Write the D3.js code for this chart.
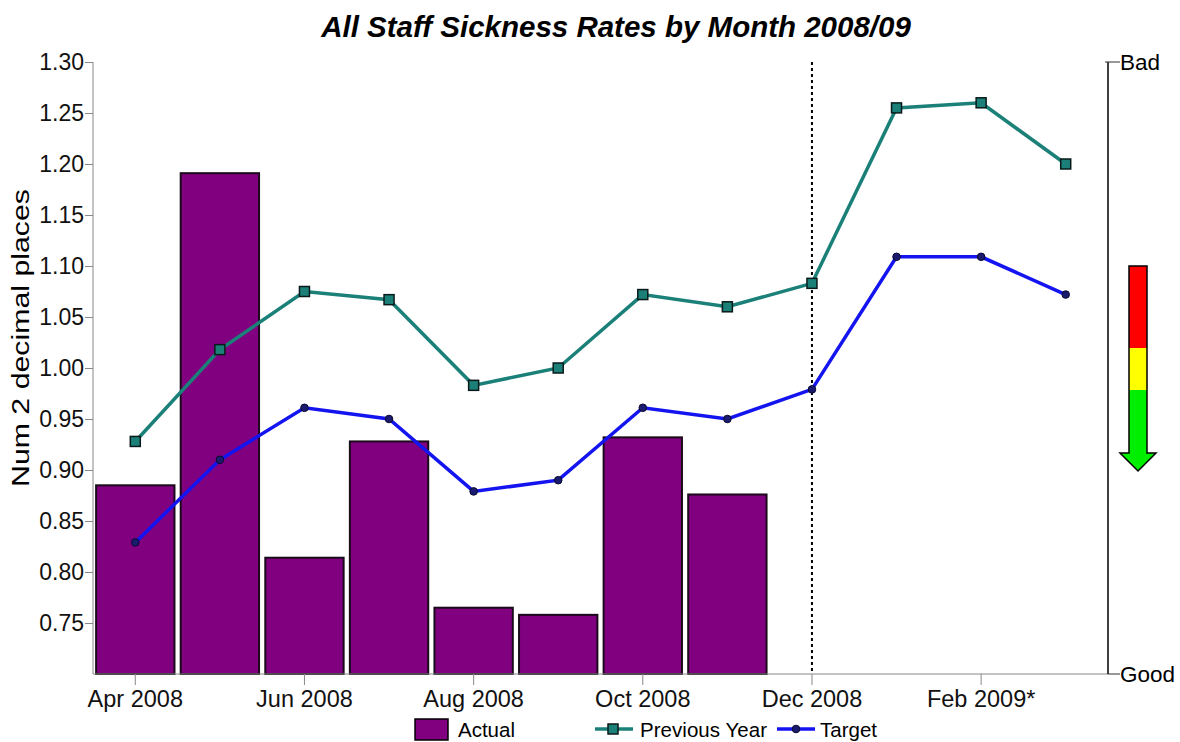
<!DOCTYPE html>
<html>
<head>
<meta charset="utf-8">
<script src="https://cdn.jsdelivr.net/npm/d3@7"></script>
<style>
  html, body { margin: 0; padding: 0; background: #fff; }
  svg { display: block; font-family: "Liberation Sans", Arial, sans-serif; }
</style>
</head>
<body>
<svg id="chart" width="1180" height="742"></svg>
<script>
// Monthly sickness rates, April 2008 to March 2009
const months = ["Apr 2008", "May 2008", "Jun 2008", "Jul 2008", "Aug 2008", "Sep 2008",
                "Oct 2008", "Nov 2008", "Dec 2008", "Jan 2009", "Feb 2009*", "Mar 2009"];
const actual = [0.885, 1.191, 0.814, 0.928, 0.765, 0.758, 0.932, 0.876, null, null, null, null];
const previousYear = [0.928, 1.018, 1.075, 1.067, 0.983, 1.000, 1.072, 1.060, 1.083, 1.255, 1.260, 1.200];
const target = [0.829, 0.910, 0.961, 0.950, 0.879, 0.890, 0.961, 0.950, 0.979, 1.109, 1.109, 1.072];
const yTicks = [0.75, 0.80, 0.85, 0.90, 0.95, 1.00, 1.05, 1.10, 1.15, 1.20, 1.25, 1.30];
const xTickLabels = ["Apr 2008", "Jun 2008", "Aug 2008", "Oct 2008", "Dec 2008", "Feb 2009*"];
const currentMonth = "Dec 2008";

const svg = d3.select("#chart");
const plotLeft = 93, plotRight = 1108, plotTop = 62, plotBottom = 674;
const FONT = "Liberation Sans, Arial, sans-serif";

const x = d3.scaleBand().domain(months).range([plotLeft, plotRight]).paddingInner(0.05).paddingOuter(0.025);
const xc = d => x(d) + x.bandwidth() / 2;
const y = d3.scaleLinear().domain([0.70, 1.30]).range([plotBottom, plotTop]);

// Title
svg.append("text")
  .attr("x", 616).attr("y", 37)
  .attr("text-anchor", "middle")
  .attr("font-size", 29.5).attr("font-weight", "bold").attr("font-style", "italic")
  .text("All Staff Sickness Rates by Month 2008/09");

// Bars
svg.append("g").selectAll("rect")
  .data(months.map((m, i) => ({ m, v: actual[i] })).filter(d => d.v != null))
  .join("rect")
  .attr("x", d => x(d.m) + 1)
  .attr("width", x.bandwidth() - 2)
  .attr("y", d => y(d.v))
  .attr("height", d => y(0.70) - y(d.v))
  .attr("fill", "#800080")
  .attr("stroke", "#1a0a1a")
  .attr("stroke-width", 2);

// Y axis
const yAxis = svg.append("g")
  .attr("transform", `translate(${plotLeft},0)`)
  .call(d3.axisLeft(y).tickValues(yTicks).tickFormat(d3.format(".2f")).tickSize(8).tickSizeOuter(0));
yAxis.select(".domain").attr("stroke", "#888").attr("d", `M0,${plotTop}V${plotBottom}`);
yAxis.selectAll(".tick line").attr("stroke", "#888");
yAxis.selectAll(".tick text").attr("font-size", 23).attr("fill", "#111").attr("x", -9)
  .attr("font-family", FONT);

// X axis
const xAxis = svg.append("g")
  .attr("transform", `translate(0,${plotBottom})`)
  .call(d3.axisBottom(x).tickValues(xTickLabels).tickSize(11).tickSizeOuter(0));
xAxis.select(".domain").attr("stroke", "#888").attr("d", `M${plotLeft},0H${plotRight}`);
xAxis.selectAll(".tick line").attr("stroke", "#888");
xAxis.selectAll(".tick text").attr("font-size", 23.5).attr("fill", "#111")
  .attr("y", 33).attr("dy", 0)
  .attr("font-family", FONT);

// Y axis title
svg.append("text")
  .attr("transform", `translate(29,338) rotate(-90)`)
  .attr("text-anchor", "middle")
  .attr("font-size", 23)
  .attr("textLength", 298).attr("lengthAdjust", "spacingAndGlyphs")
  .text("Num 2 decimal places");

// Current month marker
svg.append("line")
  .attr("x1", xc(currentMonth)).attr("x2", xc(currentMonth))
  .attr("y1", plotTop).attr("y2", plotBottom)
  .attr("stroke", "#000").attr("stroke-width", 2).attr("stroke-dasharray", "3,3");

// Lines
const line = d3.line().x((d, i) => xc(months[i])).y(d => y(d));
svg.append("path").datum(previousYear).attr("d", line)
  .attr("fill", "none").attr("stroke", "#1b8078").attr("stroke-width", 3.5);
svg.append("path").datum(target).attr("d", line)
  .attr("fill", "none").attr("stroke", "#1414f0").attr("stroke-width", 3.5);

svg.append("g").selectAll("rect")
  .data(previousYear).join("rect")
  .attr("x", (d, i) => xc(months[i]) - 5).attr("y", d => y(d) - 5)
  .attr("width", 10).attr("height", 10)
  .attr("fill", "#1b8078").attr("stroke", "#0a1a1a").attr("stroke-width", 1.5);
svg.append("g").selectAll("circle")
  .data(target).join("circle")
  .attr("cx", (d, i) => xc(months[i])).attr("cy", d => y(d))
  .attr("r", 3.8)
  .attr("fill", "#1a1a6e").attr("stroke", "#0a0a30").attr("stroke-width", 1);

// Good / Bad scale on the right
const rAxis = svg.append("g");
rAxis.append("line").attr("x1", plotRight).attr("x2", plotRight).attr("y1", plotTop).attr("y2", plotBottom)
  .attr("stroke", "#000").attr("stroke-width", 1.5);
rAxis.append("line").attr("x1", plotRight - 3).attr("x2", plotRight + 12).attr("y1", plotTop).attr("y2", plotTop)
  .attr("stroke", "#333").attr("stroke-width", 1);
rAxis.append("line").attr("x1", plotRight).attr("x2", plotRight + 12).attr("y1", plotBottom).attr("y2", plotBottom)
  .attr("stroke", "#333").attr("stroke-width", 1);
rAxis.append("text").attr("x", plotRight + 12).attr("y", plotTop + 8).attr("font-size", 22.5).text("Bad");
rAxis.append("text").attr("x", plotRight + 12).attr("y", plotBottom + 8).attr("font-size", 22.5).text("Good");

// Direction arrow: red (bad) down to green (good)
const ax0 = 1129, ax1 = 1147;
svg.append("rect").attr("x", ax0).attr("y", 266).attr("width", ax1 - ax0).attr("height", 82).attr("fill", "#ff0000");
svg.append("rect").attr("x", ax0).attr("y", 348).attr("width", ax1 - ax0).attr("height", 42).attr("fill", "#ffff00");
svg.append("path")
  .attr("d", `M${ax0},390 L${ax1},390 L${ax1},453 L1156,453 L1138,471 L1120,453 L${ax0},453 Z`)
  .attr("fill", "#00ee00");
svg.append("path")
  .attr("d", `M${ax0},266 L${ax1},266 L${ax1},453 L1156,453 L1138,471 L1120,453 L${ax0},453 Z`)
  .attr("fill", "none").attr("stroke", "#000").attr("stroke-width", 1.5);

// Legend
const lg = svg.append("g").attr("font-size", 20.5);
lg.append("rect").attr("x", 415).attr("y", 719).attr("width", 33).attr("height", 21)
  .attr("fill", "#800080").attr("stroke", "#000").attr("stroke-width", 1.5);
lg.append("text").attr("x", 458).attr("y", 737).text("Actual");
lg.append("line").attr("x1", 595).attr("x2", 633).attr("y1", 729).attr("y2", 729)
  .attr("stroke", "#1b8078").attr("stroke-width", 3.5);
lg.append("rect").attr("x", 608).attr("y", 724).attr("width", 10).attr("height", 10)
  .attr("fill", "#1b8078").attr("stroke", "#0a1a1a").attr("stroke-width", 1.5);
lg.append("text").attr("x", 640).attr("y", 737)
  .attr("textLength", 127).attr("lengthAdjust", "spacing").text("Previous Year");
lg.append("line").attr("x1", 777).attr("x2", 815).attr("y1", 729).attr("y2", 729)
  .attr("stroke", "#1414f0").attr("stroke-width", 3.5);
lg.append("circle").attr("cx", 796).attr("cy", 729).attr("r", 3.8)
  .attr("fill", "#1a1a6e").attr("stroke", "#0a0a30");
lg.append("text").attr("x", 820).attr("y", 737).text("Target");
</script>
</body>
</html>
